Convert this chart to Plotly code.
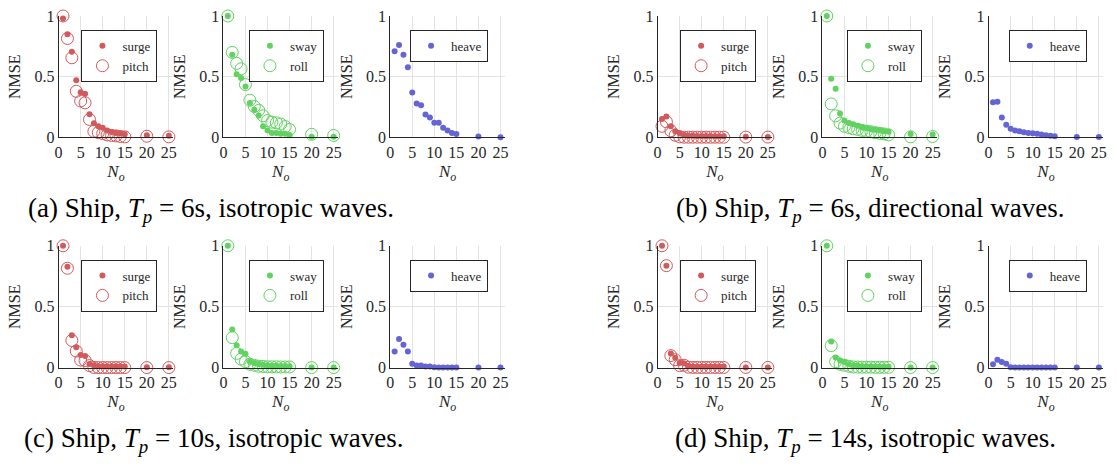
import plotly.graph_objects as go

N_o = [1, 2, 3, 4, 5, 6, 7, 8, 9, 10, 11, 12, 13, 14, 15, 20, 25]

# (a) Ship, Tp = 6s, isotropic
a_surge = [0.98, 0.85, 0.705, 0.47, 0.373, 0.36, 0.19, 0.116, 0.093, 0.08, 0.058, 0.045, 0.037, 0.032, 0.026, 0.018, 0.013]
a_pitch = [1.0, 0.815, 0.656, 0.38, 0.30, 0.285, 0.148, 0.05, 0.04, 0.032, 0.021, 0.016, 0.013, 0.008, 0.005, 0.01, 0.005]
a_sway = [1.0, 0.68, 0.52, 0.49, 0.42, 0.283, 0.228, 0.18, 0.092, 0.058, 0.037, 0.037, 0.03, 0.03, 0.021, 0.005, 0.005]
a_roll = [1.0, 0.70, 0.61, 0.565, 0.435, 0.307, 0.255, 0.223, 0.178, 0.139, 0.126, 0.12, 0.11, 0.089, 0.066, 0.026, 0.016]
a_heave = [0.709, 0.761, 0.68, 0.577, 0.37, 0.28, 0.265, 0.189, 0.165, 0.12, 0.12, 0.079, 0.058, 0.037, 0.029, 0.008, 0.002]

# (b) Ship, Tp = 6s, directional
b_surge = [0.152, 0.173, 0.092, 0.05, 0.034, 0.021, 0.014, 0.013, 0.012, 0.012, 0.011, 0.011, 0.01, 0.01, 0.01, 0.005, 0.003]
b_pitch = [0.092, 0.129, 0.055, 0.018, 0.005, 0.002, 0.002, 0.002, 0.002, 0.002, 0.002, 0.002, 0.002, 0.002, 0.002, 0.003, 0.003]
b_sway = [1.0, 0.483, 0.40, 0.197, 0.139, 0.118, 0.108, 0.097, 0.081, 0.076, 0.068, 0.063, 0.058, 0.052, 0.047, 0.029, 0.024]
b_roll = [1.0, 0.276, 0.178, 0.118, 0.092, 0.081, 0.071, 0.066, 0.058, 0.052, 0.047, 0.039, 0.034, 0.029, 0.021, 0.005, 0.008]
b_heave = [0.289, 0.294, 0.165, 0.105, 0.071, 0.058, 0.05, 0.042, 0.037, 0.034, 0.031, 0.024, 0.018, 0.013, 0.01, 0.003, 0.003]

# (c) Ship, Tp = 10s, isotropic
c_surge = [1.0, 0.829, 0.266, 0.168, 0.105, 0.097, 0.032, 0.021, 0.014, 0.013, 0.013, 0.012, 0.012, 0.012, 0.011, 0.005, 0.005]
c_pitch = [1.0, 0.816, 0.224, 0.137, 0.063, 0.06, 0.018, 0.003, 0.002, 0.002, 0.002, 0.002, 0.002, 0.002, 0.002, 0.002, 0.002]
c_sway = [1.0, 0.313, 0.184, 0.134, 0.116, 0.05, 0.039, 0.032, 0.024, 0.021, 0.017, 0.016, 0.015, 0.014, 0.013, 0.003, 0.003]
c_roll = [1.0, 0.247, 0.118, 0.071, 0.05, 0.029, 0.021, 0.013, 0.011, 0.008, 0.008, 0.008, 0.007, 0.007, 0.007, 0.002, 0.002]
c_heave = [0.134, 0.237, 0.189, 0.134, 0.034, 0.018, 0.018, 0.011, 0.011, 0.005, 0.003, 0.003, 0.003, 0.003, 0.003, 0.003, 0.003]

# (d) Ship, Tp = 14s, isotropic
d_surge = [1.0, 0.837, 0.118, 0.082, 0.039, 0.037, 0.016, 0.01, 0.01, 0.01, 0.01, 0.01, 0.01, 0.01, 0.01, 0.003, 0.003]
d_pitch = [1.0, 0.837, 0.10, 0.066, 0.018, 0.021, 0.005, 0.003, 0.003, 0.003, 0.003, 0.003, 0.003, 0.003, 0.003, 0.003, 0.003]
d_sway = [1.0, 0.216, 0.084, 0.06, 0.047, 0.029, 0.021, 0.018, 0.013, 0.012, 0.011, 0.01, 0.009, 0.009, 0.008, 0.003, 0.003]
d_roll = [1.0, 0.182, 0.05, 0.029, 0.021, 0.013, 0.007, 0.006, 0.005, 0.005, 0.005, 0.004, 0.004, 0.004, 0.004, 0.002, 0.002]
d_heave = [0.029, 0.066, 0.047, 0.034, 0.005, 0.003, 0.003, 0.003, 0.003, 0.003, 0.003, 0.003, 0.003, 0.003, 0.003, 0.003, 0.003]

captions = [
    "(a) Ship, <i>T</i><sub><i>p</i></sub> = 6s, isotropic waves.",
    "(b) Ship, <i>T</i><sub><i>p</i></sub> = 6s, directional waves.",
    "(c) Ship, <i>T</i><sub><i>p</i></sub> = 10s, isotropic waves.",
    "(d) Ship, <i>T</i><sub><i>p</i></sub> = 14s, isotropic waves.",
]

RED = "#d25a5c"
GREEN = "#5fd25f"
BLUE = "#6464d4"
FONT = "Liberation Serif"

W, H = 1117, 470

groups = [
    [[("surge", a_surge, RED, True), ("pitch", a_pitch, RED, False)],
     [("sway", a_sway, GREEN, True), ("roll", a_roll, GREEN, False)],
     [("heave", a_heave, BLUE, True)]],
    [[("surge", b_surge, RED, True), ("pitch", b_pitch, RED, False)],
     [("sway", b_sway, GREEN, True), ("roll", b_roll, GREEN, False)],
     [("heave", b_heave, BLUE, True)]],
    [[("surge", c_surge, RED, True), ("pitch", c_pitch, RED, False)],
     [("sway", c_sway, GREEN, True), ("roll", c_roll, GREEN, False)],
     [("heave", c_heave, BLUE, True)]],
    [[("surge", d_surge, RED, True), ("pitch", d_pitch, RED, False)],
     [("sway", d_sway, GREEN, True), ("roll", d_roll, GREEN, False)],
     [("heave", d_heave, BLUE, True)]],
]

col_left = {0: [55, 221, 389], 1: [658.3, 824.3, 991.7]}
leg_off = {0: [23, 25.7, 20], 1: [22.7, 24.7, 20.3]}
axw = 115.5
row_y = {0: (8.3, 134.3), 1: (246.7, 373.3)}
leg_top = {0: 22.7, 1: 261}
cap_pos = [(208, 210), (872, 210), (211, 448), (868, 448)]

fig = go.Figure()
layout = dict(
    width=W, height=H, margin=dict(l=0, r=0, t=0, b=0),
    paper_bgcolor="white", plot_bgcolor="white",
    font=dict(family=FONT, color="#262626", size=15),
    annotations=[],
)

k = 0
for g, panels in enumerate(groups):
    row = g // 2
    colgrp = g % 2
    for s, series in enumerate(panels):
        k += 1
        xa = "x" if k == 1 else f"x{k}"
        ya = "y" if k == 1 else f"y{k}"
        leg = "legend" if k == 1 else f"legend{k}"
        left = col_left[colgrp][s]
        top, bot = row_y[row]
        for name, vals, color, filled in series:
            if filled:
                marker = dict(symbol="circle", size=6, color=color)
            else:
                marker = dict(symbol="circle-open", size=12, color=color, line=dict(width=1, color=color))
            fig.add_trace(go.Scatter(
                x=N_o, y=vals, mode="markers", name=name, marker=marker,
                xaxis=xa, yaxis=ya, legend=leg, cliponaxis=False,
            ))
        axis_common = dict(
            showline=True, linecolor="#262626", linewidth=1, zeroline=False,
            showgrid=True, gridcolor="#e3e3e3", gridwidth=1, ticks="",
            tickfont=dict(family=FONT, size=16, color="#262626"),
        )
        layout["xaxis" if k == 1 else f"xaxis{k}"] = dict(
            axis_common, domain=[left / W, (left + axw) / W], range=[0, 26],
            tickvals=[0, 5, 10, 15, 20, 25], anchor=ya,
            title=dict(text="<i>N</i><sub><i>o</i></sub>", font=dict(family=FONT, size=17), standoff=5),
        )
        layout["yaxis" if k == 1 else f"yaxis{k}"] = dict(
            axis_common, domain=[(H - bot) / H, (H - top) / H], range=[0, 1],
            tickvals=[0, 0.5, 1], ticktext=["0", "0.5", "1"], anchor=xa,
            title=dict(text="NMSE", font=dict(family=FONT, size=16), standoff=9),
        )
        layout[leg] = dict(
            x=(left + leg_off[colgrp][s]) / W, y=(H - leg_top[row]) / H,
            xanchor="left", yanchor="top", bgcolor="white",
            bordercolor="#262626", borderwidth=1,
            font=dict(family=FONT, size=13, color="#262626"),
            tracegroupgap=0, itemwidth=30,
        )

for txt, (cx, cy) in zip(captions, cap_pos):
    layout["annotations"].append(dict(
        text=txt, x=cx / W, y=(H - cy) / H, xref="paper", yref="paper",
        xanchor="center", yanchor="middle", showarrow=False,
        font=dict(family=FONT, size=27, color="black"),
    ))

fig.update_layout(**layout)
fig.write_html("out.html")
